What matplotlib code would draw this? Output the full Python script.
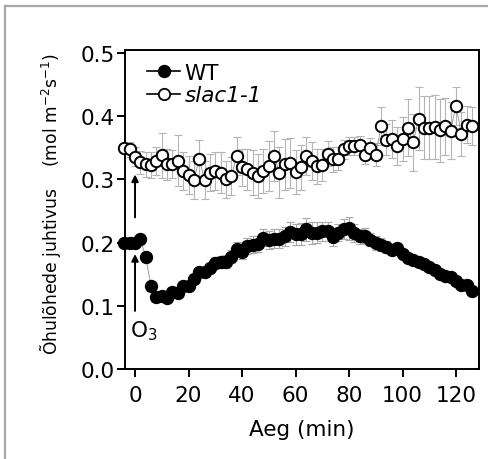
import matplotlib
matplotlib.use("Agg")
import matplotlib.pyplot as plt
from matplotlib.lines import Line2D
import numpy as np

plt.rcParams['font.family'] = ['DejaVu Sans']
plt.rcParams['mathtext.fontset'] = 'dejavusans'

# time (min)
time = [-4, -2, 0, 2, 4, 6, 8, 10, 12, 14, 16, 18, 20, 22, 24, 26, 28, 30, 32, 34,
        36, 38, 40, 42, 44, 46, 48, 50, 52, 54, 56, 58, 60, 62, 64, 66, 68, 70, 72, 74,
        76, 78, 80, 82, 84, 86, 88, 90, 92, 94, 96, 98, 100, 102, 104, 106, 108, 110,
        112, 114, 116, 118, 120, 122, 124, 126]

wt = [0.199, 0.199, 0.200, 0.206, 0.177, 0.131, 0.114, 0.116, 0.112, 0.122,
      0.120, 0.131, 0.131, 0.142, 0.153, 0.154, 0.160, 0.168, 0.170, 0.170,
      0.178, 0.190, 0.186, 0.195, 0.197, 0.198, 0.208, 0.204, 0.206, 0.206,
      0.210, 0.217, 0.213, 0.214, 0.221, 0.215, 0.216, 0.218, 0.218, 0.209,
      0.216, 0.222, 0.223, 0.215, 0.210, 0.211, 0.205, 0.200, 0.197, 0.193,
      0.188, 0.192, 0.182, 0.175, 0.172, 0.169, 0.167, 0.162, 0.157, 0.151,
      0.148, 0.145, 0.140, 0.133, 0.133, 0.124]
wt_err = [0.003, 0.003, 0.003, 0.003, 0.004, 0.004, 0.004, 0.005, 0.005, 0.006,
          0.006, 0.006, 0.007, 0.007, 0.007, 0.008, 0.008, 0.009, 0.009, 0.010,
          0.010, 0.011, 0.012, 0.013, 0.013, 0.013, 0.014, 0.014, 0.015, 0.015,
          0.015, 0.016, 0.016, 0.017, 0.018, 0.017, 0.016, 0.015, 0.015, 0.014,
          0.014, 0.016, 0.018, 0.014, 0.012, 0.012, 0.011, 0.011, 0.010, 0.009,
          0.008, 0.008, 0.007, 0.007, 0.006, 0.006, 0.006, 0.006, 0.005, 0.005,
          0.005, 0.005, 0.005, 0.005, 0.005, 0.005]

slac = [0.350, 0.348, 0.336, 0.327, 0.324, 0.323, 0.329, 0.338, 0.324, 0.324,
        0.330, 0.313, 0.307, 0.299, 0.333, 0.299, 0.311, 0.313, 0.311, 0.300,
        0.305, 0.337, 0.319, 0.316, 0.311, 0.305, 0.313, 0.321, 0.337, 0.311,
        0.324, 0.326, 0.312, 0.319, 0.337, 0.329, 0.321, 0.323, 0.341, 0.332,
        0.333, 0.348, 0.353, 0.353, 0.354, 0.339, 0.350, 0.339, 0.384, 0.363,
        0.364, 0.353, 0.364, 0.382, 0.359, 0.396, 0.382, 0.382, 0.383, 0.378,
        0.384, 0.377, 0.417, 0.372, 0.387, 0.384]
slac_err = [0.010, 0.012, 0.015, 0.018, 0.020, 0.020, 0.022, 0.035, 0.025, 0.022,
            0.040, 0.030, 0.030, 0.030, 0.030, 0.030, 0.030, 0.030, 0.032, 0.030,
            0.030, 0.030, 0.030, 0.032, 0.035, 0.035, 0.035, 0.040, 0.040, 0.040,
            0.040, 0.040, 0.035, 0.035, 0.030, 0.030, 0.028, 0.025, 0.020, 0.020,
            0.018, 0.015, 0.015, 0.015, 0.015, 0.015, 0.015, 0.018, 0.030, 0.025,
            0.030, 0.030, 0.035, 0.045, 0.045, 0.050, 0.050, 0.050, 0.050, 0.050,
            0.045, 0.045, 0.030, 0.035, 0.030, 0.030]

xticks = [0, 20, 40, 60, 80, 100, 120]
yticks = [0.0, 0.1, 0.2, 0.3, 0.4, 0.5]

FS = 15.5

fig = plt.figure(figsize=(4.89, 4.60), dpi=100)
fig.patch.set_facecolor('white')

# outer gray frame (left/top)
fig.add_artist(Line2D([5/489, 5/489], [0, 1-7/460], color='#a8a8a8', lw=1.6,
                      transform=fig.transFigure))
fig.add_artist(Line2D([5/489, 1], [1-7/460, 1-7/460], color='#a8a8a8', lw=1.6,
                      transform=fig.transFigure))

ax = fig.add_axes([125/489, 1-370/460, (479-125)/489, (370-51)/460])

ax.errorbar(time, slac, yerr=slac_err, fmt='none', ecolor='#b4b4b4',
            elinewidth=0.8, capsize=3, capthick=0.8, zorder=1)
ax.errorbar(time, wt, yerr=wt_err, fmt='none', ecolor='#a8a8a8',
            elinewidth=0.8, capsize=3, capthick=0.8, zorder=1)

ax.plot(time, slac, color='#909090', lw=0.6, zorder=2)
ax.plot(time, wt, color='#909090', lw=0.6, zorder=2)
ax.plot(time, slac, ls='none', marker='o', ms=8.2, mfc='white', mec='black',
        mew=1.4, zorder=3, clip_on=False)
ax.plot(time, wt, ls='none', marker='o', ms=8.6, mfc='black', mec='black',
        mew=1.0, zorder=4, clip_on=False)

# ozone arrows
ax.annotate('', xy=(0, 0.308), xytext=(0, 0.240),
            arrowprops=dict(arrowstyle='-|>', color='black', lw=1.4,
                            mutation_scale=10, shrinkA=0, shrinkB=0))
ax.annotate('', xy=(0, 0.182), xytext=(0, 0.092),
            arrowprops=dict(arrowstyle='-|>', color='black', lw=1.4,
                            mutation_scale=10, shrinkA=0, shrinkB=0))
ax.text(-2.0, 0.062, r'O$_{\mathregular{3}}$', fontsize=FS, ha='left', va='center')

ax.set_xlim(-3.75, 128.6)
ax.set_ylim(0, 0.505)
ax.set_xticks(xticks)
ax.set_yticks(yticks)
ax.set_xticklabels([str(v) for v in xticks])
ax.set_yticklabels([f'{v:.1f}' for v in yticks])
ax.tick_params(direction='out', length=5.5, width=1.4, labelsize=FS,
               color='black')
ax.tick_params(axis='x', pad=6)
ax.tick_params(axis='y', pad=2)
for s in ax.spines.values():
    s.set_linewidth(1.4)

ax.set_xlabel('Aeg (min)', fontsize=FS, labelpad=10)
ax.set_ylabel('Õhulõhede juhtivus    (mol m$^{\\mathregular{-2}}$s$^{\\mathregular{-1}}$)',
              fontsize=12.3)
ax.yaxis.set_label_coords(-0.176, 0.519)

handles = [Line2D([], [], color='black', lw=1.2, marker='o', ms=8.6, mfc='black', mec='black'),
           Line2D([], [], color='black', lw=1.2, marker='o', ms=8.2, mfc='white', mec='black', mew=1.3)]
leg = ax.legend(handles, ['WT', 'slac1-1'], loc='upper left', frameon=False,
                fontsize=FS, handlelength=1.55, handletextpad=0.2,
                borderpad=0, borderaxespad=0, labelspacing=0.1,
                bbox_to_anchor=(0.062, (370-64)/319))
leg.get_texts()[1].set_style('italic')

fig.savefig('out.png', dpi=100, facecolor='white')
